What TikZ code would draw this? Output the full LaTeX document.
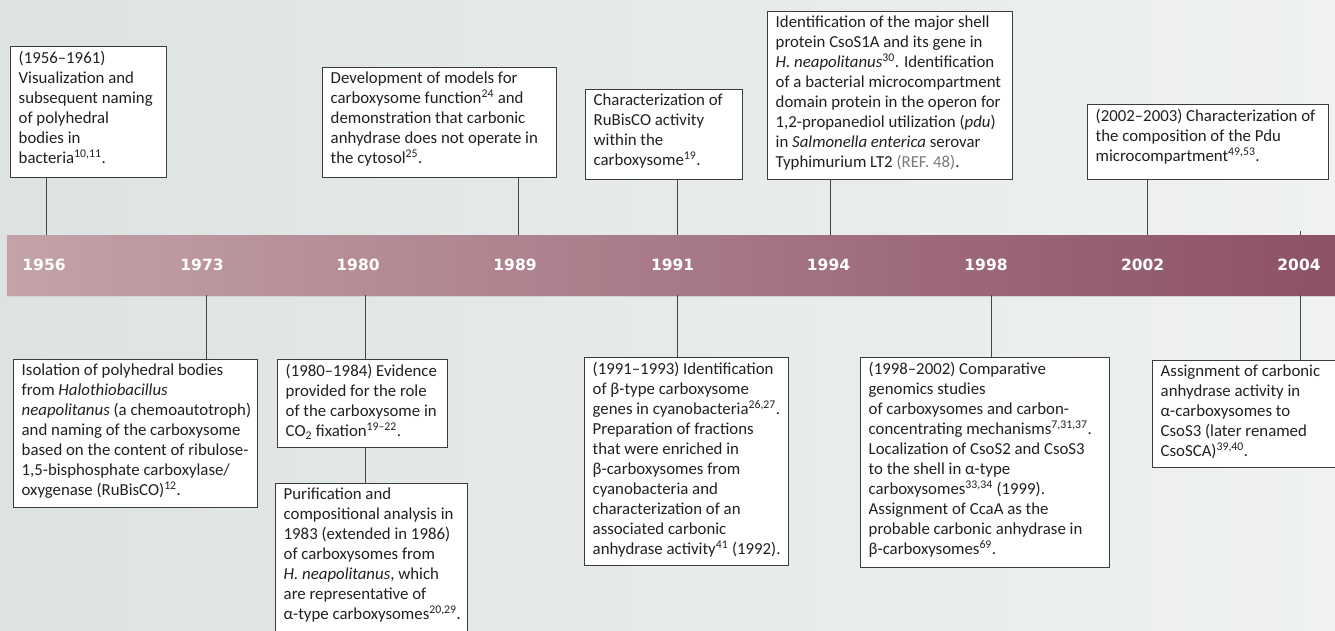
\documentclass[tikz,border=0pt]{standalone}
\usepackage{fontspec}
\setmainfont{Carlito}
\newfontfamily\yearfont{DejaVu Sans}
\definecolor{bgl}{HTML}{DDE3E2}
\definecolor{bgr}{HTML}{EFF1F2}
\definecolor{bandl}{HTML}{C3A2A8}
\definecolor{bandr}{HTML}{8D5166}
\definecolor{boxc}{HTML}{3C3C3C}
\definecolor{linec}{HTML}{454545}
\definecolor{textc}{HTML}{231F20}
\definecolor{refc}{HTML}{7A7A7A}
\definecolor{shadowc}{HTML}{D2D4D4}
\newcommand\supr[1]{\textsuperscript{#1}}
\tikzset{
  tlbox/.style={draw=boxc, fill=white, line width=0.9pt, inner sep=0pt, anchor=north west},
  conn/.style={draw=linec, line width=1pt},
  txt/.style={anchor=north west, align=left, inner sep=0pt, text=textc,
              font=\fontsize{16.8}{20}\selectfont, execute at begin node={\strut}},
  yr/.style={text=white, inner sep=0pt, font=\yearfont\bfseries\fontsize{15.5}{18}\selectfont},
}
\begin{document}
\begin{tikzpicture}[x=1pt,y=-1pt]
\useasboundingbox (0,0) rectangle (1335,631);
\shade[left color=bgl, right color=bgr] (0,0) rectangle (1335,631);
% band
\node[anchor=north west, inner sep=0pt, minimum width=1330pt, minimum height=60pt,
      left color=bandl, right color=bandr] (band) at (7,235) {};
\draw[shadowc, line width=1.5pt] (band.south west) ++(0,1.2) -- ++(1330,0);
% years
\foreach \yy/\xx in {1956/44,1973/202,1980/358,1989/515,1991/672.6,1994/828.5,1998/986,2002/1142.6,2004/1299}
  \node[yr] (y\yy) at (\xx,265) {\yy};
% connector anchors on the band
\coordinate (a1956) at (46,235);
\coordinate (a1989) at (518.5,235);
\coordinate (a1991) at (677.7,235);
\coordinate (a1994) at (830,235);
\coordinate (a2002) at (1147,235);
\coordinate (a2004) at (1300,235);
\coordinate (c1973) at (206,295);
\coordinate (c1980) at (365,295);
\coordinate (c1991) at (677.7,295);
\coordinate (c1998) at (991,295);
\coordinate (c2004) at (1300,295);
% top boxes
\node[tlbox, minimum width=156pt, minimum height=131pt] (b1956) at (10,46) {};
\node[txt] (t1956) at ([xshift=8.5pt,yshift=-5pt]b1956.north west)
  {(1956–1961)\\Visualization and\\subsequent naming\\of polyhedral\\bodies in\\bacteria\supr{10,11}.};
\node[tlbox, minimum width=234pt, minimum height=110pt] (b1989) at (322,67) {};
\node[txt] (t1989) at ([xshift=8.5pt,yshift=-5pt]b1989.north west)
  {Development of models for\\carboxysome function\supr{24} and\\demonstration that carbonic\\anhydrase does not operate in\\the cytosol\supr{25}.};
\node[tlbox, minimum width=157pt, minimum height=90pt] (b1991) at (585,89) {};
\node[txt] (t1991) at ([xshift=8.5pt,yshift=-5pt]b1991.north west)
  {Characterization of\\RuBisCO activity\\within the\\carboxysome\supr{19}.};
\node[tlbox, minimum width=245pt, minimum height=168pt] (b1994) at (767,11) {};
\node[txt] (t1994) at ([xshift=8.5pt,yshift=-5pt]b1994.north west)
  {Identification of the major shell\\protein CsoS1A and its gene in\\\textit{H. neapolitanus}\supr{30}. Identification\\of a bacterial microcompartment\\domain protein in the operon for\\1,2-propanediol utilization (\textit{pdu})\\in \textit{Salmonella enterica} serovar\\Typhimurium LT2 {\color{refc}(REF. 48)}.};
\node[tlbox, minimum width=241pt, minimum height=75pt] (b2002) at (1087,104) {};
\node[txt] (t2002) at ([xshift=8.5pt,yshift=-5pt]b2002.north west)
  {(2002–2003) Characterization of\\the composition of the Pdu\\microcompartment\supr{49,53}.};
% bottom boxes
\node[tlbox, minimum width=244pt, minimum height=148pt] (b1973) at (13,359) {};
\node[txt] (t1973) at ([xshift=8.5pt,yshift=-5pt]b1973.north west)
  {Isolation of polyhedral bodies\\from \textit{Halothiobacillus}\\\textit{neapolitanus} (a chemoautotroph)\\and naming of the carboxysome\\based on the content of ribulose-\\1,5-bisphosphate carboxylase/\\oxygenase (RuBisCO)\supr{12}.};
\node[tlbox, minimum width=170pt, minimum height=88pt] (b1980a) at (277,359) {};
\node[txt] (t1980a) at ([xshift=8.5pt,yshift=-5pt]b1980a.north west)
  {(1980–1984) Evidence\\provided for the role\\of the carboxysome in\\CO\textsubscript{2} fixation\supr{19–22}.};
\node[tlbox, minimum width=192pt, minimum height=160pt] (b1980b) at (275,483) {};
\node[txt] (t1980b) at ([xshift=8.5pt,yshift=-5pt]b1980b.north west)
  {Purification and\\compositional analysis in\\1983 (extended in 1986)\\of carboxysomes from\\\textit{H. neapolitanus}, which\\are representative of\\α-type carboxysomes\supr{20,29}.};
\node[tlbox, minimum width=203.6pt, minimum height=208pt] (b1991b) at (584,357) {};
\node[txt] (t1991b) at ([xshift=8.5pt,yshift=-5pt]b1991b.north west)
  {(1991–1993) Identification\\of β-type carboxysome\\genes in cyanobacteria\supr{26,27}.\\Preparation of fractions\\that were enriched in\\β-carboxysomes from\\cyanobacteria and\\characterization of an\\associated carbonic\\anhydrase activity\supr{41} (1992).};
\node[tlbox, minimum width=248.6pt, minimum height=210pt] (b1998) at (860,357) {};
\node[txt] (t1998) at ([xshift=8.5pt,yshift=-5pt]b1998.north west)
  {(1998–2002) Comparative\\genomics studies\\of carboxysomes and carbon-\\concentrating mechanisms\supr{7,31,37}.\\Localization of CsoS2 and CsoS3\\to the shell in α-type\\carboxysomes\supr{33,34} (1999).\\Assignment of CcaA as the\\probable carbonic anhydrase in\\β-carboxysomes\supr{69}.};
\node[tlbox, minimum width=190pt, minimum height=107pt] (b2004) at (1152,360) {};
\node[txt] (t2004) at ([xshift=8.5pt,yshift=-5pt]b2004.north west)
  {Assignment of carbonic\\anhydrase activity in\\α-carboxysomes to\\CsoS3 (later renamed\\CsoSCA)\supr{39,40}.};
% connectors
\draw[conn] (b1956.south -| a1956) -- (a1956);
\draw[conn] (b1989.south -| a1989) -- (a1989);
\draw[conn] (b1991.south -| a1991) -- (a1991);
\draw[conn] (b1994.south -| a1994) -- (a1994);
\draw[conn] (b2002.south -| a2002) -- (a2002);
\draw[conn] (a2004) -- ++(0,-4);
\draw[conn] (c1973) -- (c1973 |- b1973.north);
\draw[conn] (c1980) -- (c1980 |- b1980a.north);
\draw[conn] (c1980 |- b1980a.south) -- (c1980 |- b1980b.north);
\draw[conn] (c1991) -- (c1991 |- b1991b.north);
\draw[conn] (c1998) -- (c1998 |- b1998.north);
\draw[conn] (c2004) -- (c2004 |- b2004.north);
\end{tikzpicture}
\end{document}
